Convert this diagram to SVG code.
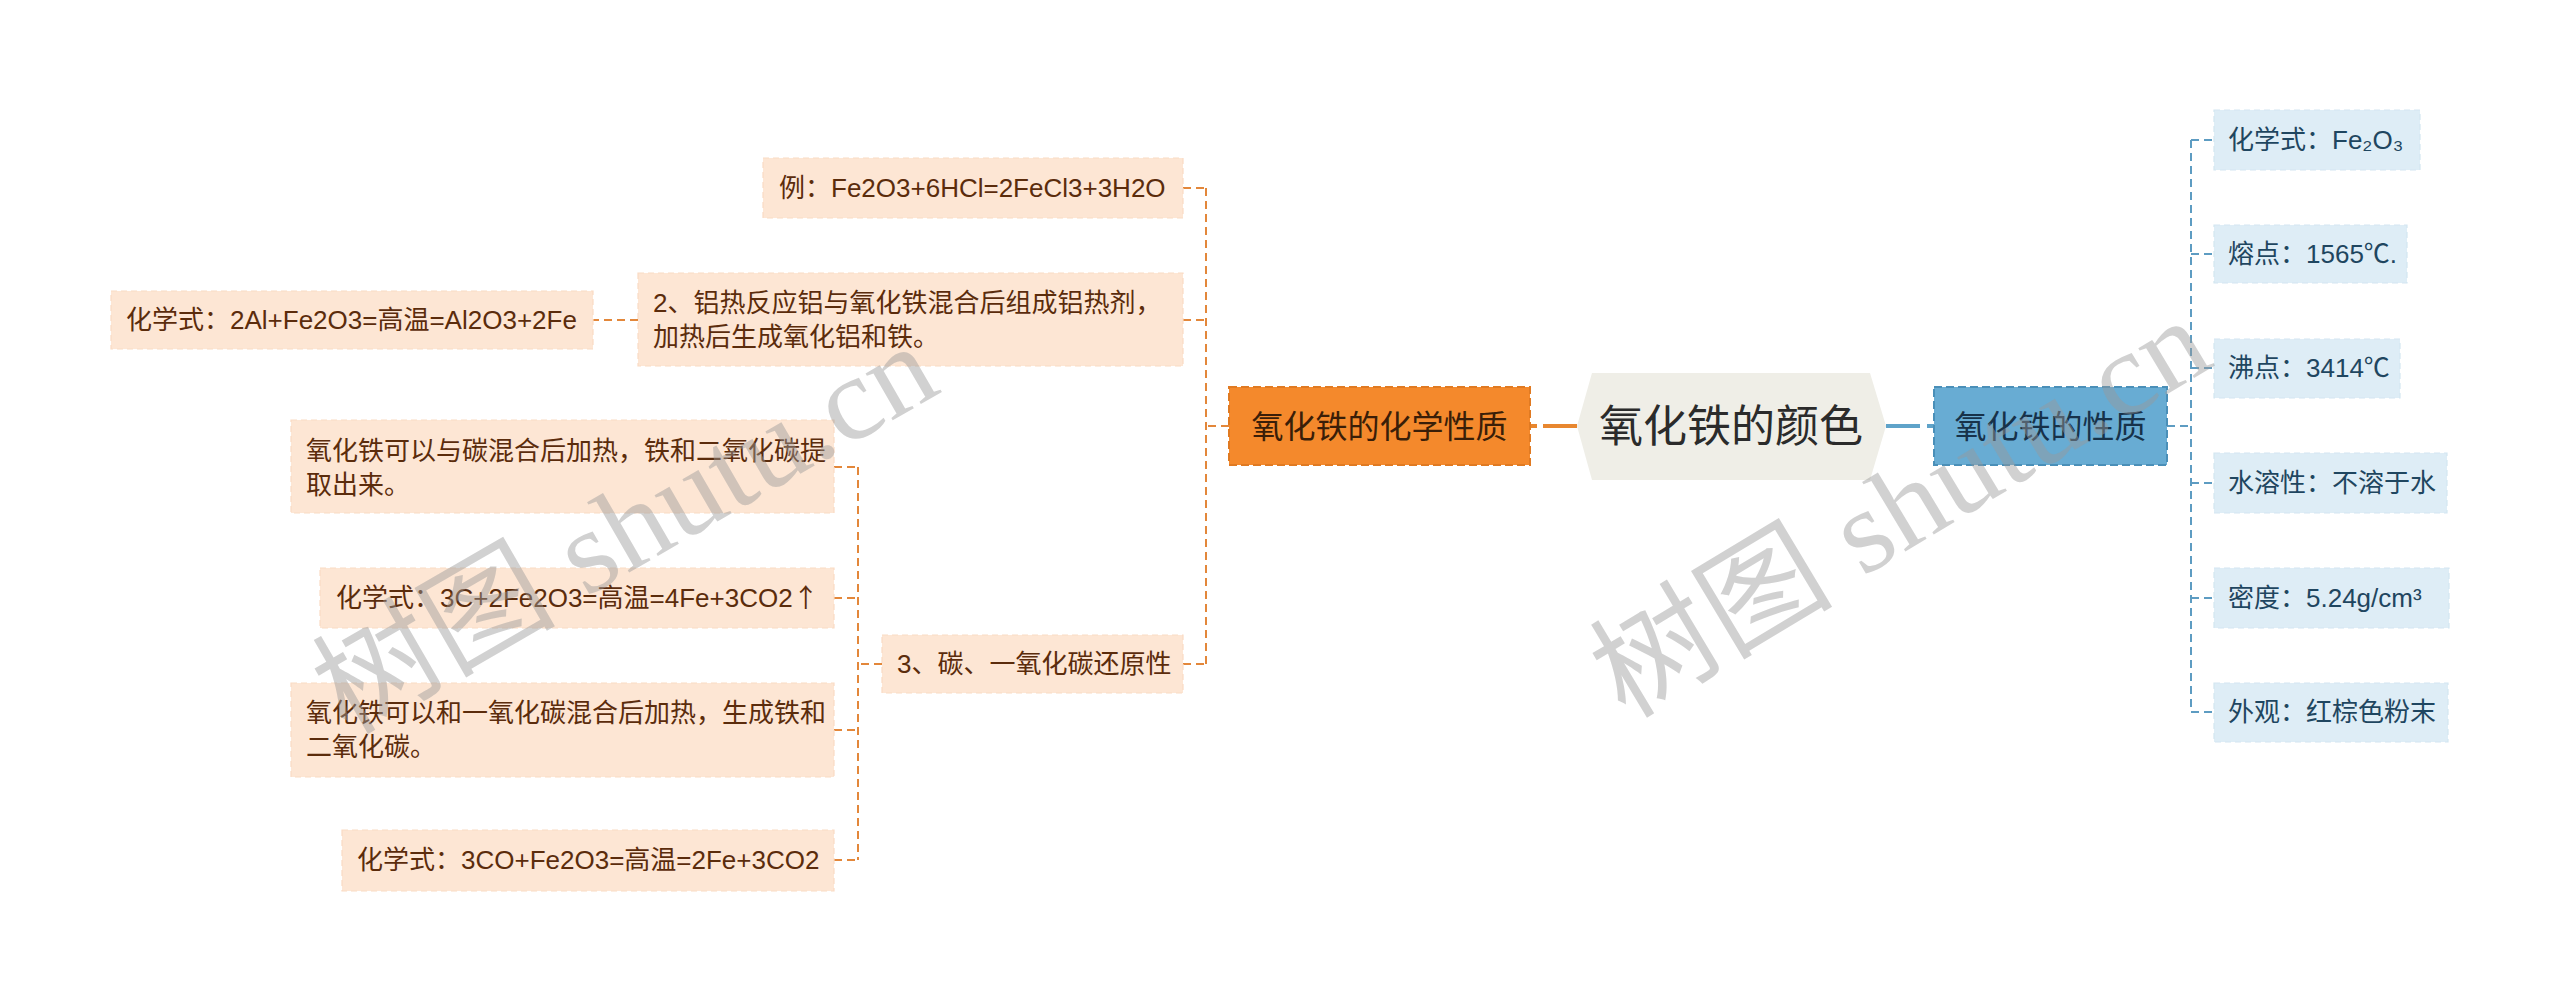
<svg xmlns="http://www.w3.org/2000/svg" width="2560" height="1001" viewBox="0 0 2560 1001">
<style>
text{font-family:"Liberation Sans","Noto Sans CJK SC",sans-serif;}
.ol{fill:#fde6d4;stroke:#fadbc4;stroke-width:1.2;stroke-dasharray:6 4;}
.ot{font-size:26px;fill:#5b2c0c;}
.bl{fill:#deedf6;stroke:#d3e6f1;stroke-width:1.2;stroke-dasharray:6 4;}
.bt{font-size:26px;fill:#1f4660;}
.oc{fill:none;stroke:#e3873a;stroke-width:2;stroke-dasharray:8 5;}
.bc{fill:none;stroke:#5d9cc2;stroke-width:2;stroke-dasharray:8 5;}
.wm{font-family:"Liberation Serif","Noto Sans CJK SC",serif;font-size:118px;fill:#9a9a9a;fill-opacity:0.45;}
</style>
<rect width="2560" height="1001" fill="#ffffff"/>
<g id="connectors">
<path d="M1530,426 H1537" stroke="#e8872f" stroke-width="4" fill="none"/>
<path d="M1543,426 H1577" stroke="#e8872f" stroke-width="4" fill="none"/>
<path d="M1886,426 H1920" stroke="#5fa3c9" stroke-width="4" fill="none"/>
<path d="M1927,426 H1934" stroke="#5fa3c9" stroke-width="4" fill="none"/>
<path class="oc" d="M1229,426 H1206 M1206,188 V664 M1183,188 H1206 M1183,320 H1206 M1183,664 H1206"/>
<path class="oc" d="M638,320 H593"/>
<path class="oc" d="M882,664 H858 M858,467 V860 M834,467 H858 M834,598 H858 M834,730 H858 M834,860 H858"/>
<path class="bc" d="M2167,426 H2191 M2191,140 V712 M2191,140 H2214 M2191,254 H2214 M2191,368 H2214 M2191,483 H2214 M2191,598 H2214 M2191,712 H2214"/>
</g>
<g id="root">
<polygon points="1577,426 1592,373 1870,373 1886,426 1870,480 1592,480" fill="#efeee7"/>
<text x="1731" y="442" text-anchor="middle" font-size="44" fill="#2b2b2b">氧化铁的颜色</text>
</g>
<g id="chem">
<rect x="1229" y="387" width="301" height="78" fill="#f4892c" stroke="#e07a22" stroke-width="2" stroke-dasharray="8 4"/>
<text x="1379.5" y="438" text-anchor="middle" font-size="32" fill="#3a1e08">氧化铁的化学性质</text>
</g>
<g id="prop">
<rect x="1934" y="387" width="233" height="78" fill="#68acd3" stroke="#4a8fb8" stroke-width="2" stroke-dasharray="8 4"/>
<text x="2050.5" y="438" text-anchor="middle" font-size="32" fill="#17324a">氧化铁的性质</text>
</g>
<g id="c1">
<rect class="ol" x="763" y="158" width="420" height="60"/>
<text class="ot" x="779" y="197">例：Fe2O3+6HCl=2FeCl3+3H2O</text>
</g>
<g id="c2">
<rect class="ol" x="638" y="273" width="545" height="93"/>
<text class="ot" x="653" y="312">2、铝热反应铝与氧化铁混合后组成铝热剂，</text>
<text class="ot" x="653" y="346">加热后生成氧化铝和铁。</text>
</g>
<g id="c2a">
<rect class="ol" x="111" y="291" width="482" height="58"/>
<text class="ot" x="126" y="329">化学式：2Al+Fe2O3=高温=Al2O3+2Fe</text>
</g>
<g id="c3">
<rect class="ol" x="882" y="635" width="301" height="58"/>
<text class="ot" x="897" y="673">3、碳、一氧化碳还原性</text>
</g>
<g id="c3a">
<rect class="ol" x="291" y="420" width="543" height="93"/>
<text class="ot" x="306" y="460">氧化铁可以与碳混合后加热，铁和二氧化碳提</text>
<text class="ot" x="306" y="494">取出来。</text>
</g>
<g id="c3b">
<rect class="ol" x="320" y="568" width="514" height="60"/>
<text class="ot" x="336" y="607">化学式：3C+2Fe2O3=高温=4Fe+3CO2<tspan font-family="Noto Sans CJK SC, sans-serif">↑</tspan></text>
</g>
<g id="c3c">
<rect class="ol" x="291" y="683" width="543" height="94"/>
<text class="ot" x="306" y="722">氧化铁可以和一氧化碳混合后加热，生成铁和</text>
<text class="ot" x="306" y="756">二氧化碳。</text>
</g>
<g id="c3d">
<rect class="ol" x="342" y="830" width="492" height="61"/>
<text class="ot" x="357" y="869">化学式：3CO+Fe2O3=高温=2Fe+3CO2</text>
</g>
<g id="p1">
<rect class="bl" x="2214" y="110" width="206" height="60"/>
<text class="bt" x="2228" y="149">化学式：Fe₂O₃</text>
</g>
<g id="p2">
<rect class="bl" x="2214" y="225" width="193" height="58"/>
<text class="bt" x="2228" y="263">熔点：1565℃.</text>
</g>
<g id="p3">
<rect class="bl" x="2214" y="339" width="186" height="59"/>
<text class="bt" x="2228" y="377">沸点：3414℃</text>
</g>
<g id="p4">
<rect class="bl" x="2214" y="453" width="233" height="60"/>
<text class="bt" x="2228" y="492">水溶性：不溶于水</text>
</g>
<g id="p5">
<rect class="bl" x="2214" y="568" width="235" height="60"/>
<text class="bt" x="2228" y="607">密度：5.24g/cm³</text>
</g>
<g id="p6">
<rect class="bl" x="2214" y="683" width="234" height="59"/>
<text class="bt" x="2228" y="721">外观：红棕色粉末</text>
</g>
<g id="watermark">
<text class="wm" transform="translate(346,736) rotate(-30)" textLength="690" lengthAdjust="spacingAndGlyphs">树图 shutu.cn</text>
<text class="wm" transform="translate(1625,720) rotate(-31)" textLength="690" lengthAdjust="spacingAndGlyphs">树图 shutu.cn</text>
</g>
</svg>
